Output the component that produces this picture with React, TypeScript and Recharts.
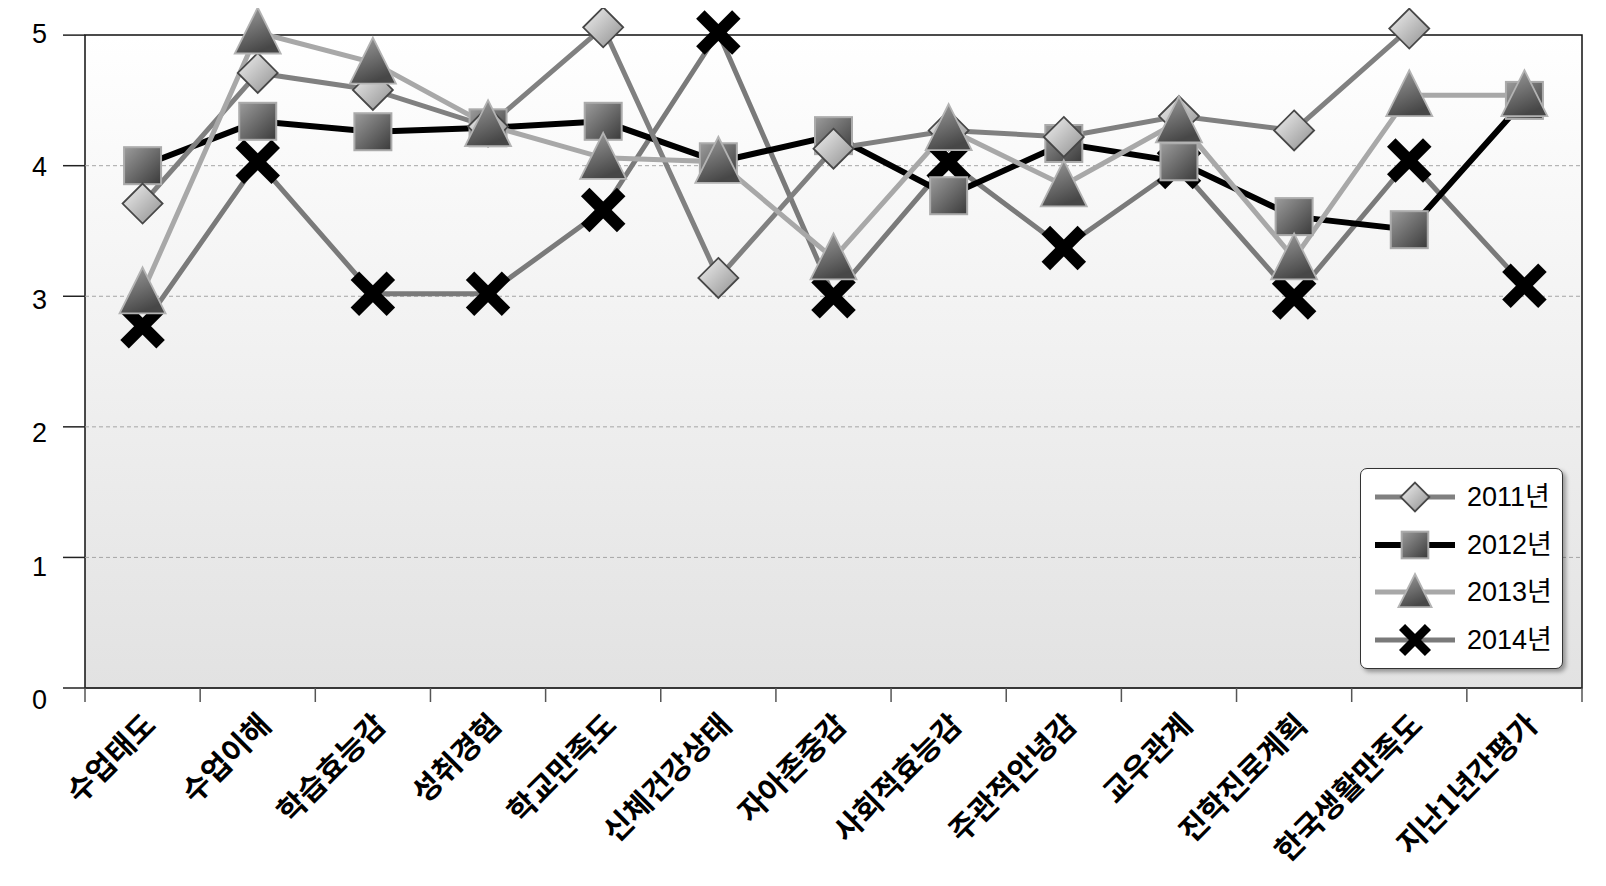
import React from 'react';
import { LineChart, Line, XAxis, YAxis, ReferenceArea, ReferenceLine, Legend } from 'recharts';

const categories = ['수업태도', '수업이해', '학습효능감', '성취경험', '학교만족도', '신체건강상태', '자아존중감', '사회적효능감', '주관적안녕감', '교우관계', '진학진로계획', '한국생활만족도', '지난1년간평가'];
const values2011: (number | null)[] = [3.71, 4.71, 4.58, 4.3, 5.06, 3.14, 4.13, 4.27, 4.22, 4.38, 4.27, 5.05, null];
const values2012 = [4.0, 4.34, 4.26, 4.29, 4.34, 4.03, 4.23, 3.77, 4.17, 4.03, 3.61, 3.51, 4.5];
const values2013 = [3.03, 5.02, 4.79, 4.31, 4.06, 4.03, 3.29, 4.28, 3.85, 4.34, 3.29, 4.54, 4.54];
const values2014 = [2.77, 4.03, 3.02, 3.02, 3.66, 5.02, 3.0, 4.03, 3.37, 3.99, 2.99, 4.04, 3.08];
const yTicks = [0, 1, 2, 3, 4, 5];
const gridLevels = [1, 2, 3, 4];
const seriesNames = ['2011년', '2012년', '2013년', '2014년'];

const data = categories.map((name, i) => ({
  name,
  y2011: values2011[i],
  y2012: values2012[i],
  y2013: values2013[i],
  y2014: values2014[i],
}));

const LATIN = "'Liberation Sans', Arial, 'Noto Sans CJK KR', sans-serif";
const KR = "'Noto Sans CJK KR', 'Noto Sans', sans-serif";

type Shape = 'diamond' | 'square' | 'triangle' | 'x';

function Marker({ shape, cx, cy, s = 1 }: { shape: Shape; cx: number; cy: number; s?: number }) {
  if (shape === 'diamond') {
    const r = 20 * s;
    return (
      <polygon
        points={`${cx},${cy - r} ${cx + r},${cy} ${cx},${cy + r} ${cx - r},${cy}`}
        fill="url(#gDia)"
        stroke="#474747"
        strokeWidth={1.8}
      />
    );
  }
  if (shape === 'square') {
    const h = 18.5 * s;
    return <rect x={cx - h} y={cy - h} width={2 * h} height={2 * h} fill="url(#gSq)" stroke="#ababab" strokeWidth={2} />;
  }
  if (shape === 'triangle') {
    const w = 23 * s;
    return (
      <polygon
        points={`${cx},${cy - 25 * s} ${cx + w},${cy + 21 * s} ${cx - w},${cy + 21 * s}`}
        fill="url(#gTri)"
        stroke="#b3b3b3"
        strokeWidth={1.8}
      />
    );
  }
  const a = 18 * s;
  return (
    <g stroke="#000" strokeWidth={12 * s} strokeLinecap="butt">
      <line x1={cx - a} y1={cy - a} x2={cx + a} y2={cy + a} />
      <line x1={cx - a} y1={cy + a} x2={cx + a} y2={cy - a} />
    </g>
  );
}

const makeDot = (shape: Shape) => (p: any) => {
  const k = `${shape}-${p.index}`;
  if (p.cx == null || p.cy == null || p.value == null) return <g key={k} />;
  return (
    <g key={k}>
      <Marker shape={shape} cx={p.cx} cy={p.cy} />
    </g>
  );
};

const XTick = (props: any) => {
  const { x, y, payload, index } = props;
  const half = payload && payload.offset ? payload.offset : 57.6;
  return (
    <g>
      <line x1={x - half} y1={y} x2={x - half} y2={y + 14} stroke="#555" strokeWidth={1.5} />
      {index === categories.length - 1 && (
        <line x1={x + half} y1={y} x2={x + half} y2={y + 14} stroke="#555" strokeWidth={1.5} />
      )}
      <g transform={`translate(${x + 15},${y + 39})`}>
        <text transform="rotate(-45)" textAnchor="end" fontSize={30} fontFamily={KR} fontWeight={600} fill="#000">
          {payload.value}
        </text>
      </g>
    </g>
  );
};

const YTick = (props: any) => {
  const { x, y, payload } = props;
  const shift = (5 - payload.value) * 2.6 - 2;
  return (
    <text x={x} y={y + shift} dy="0.36em" textAnchor="end" fontSize={27} fontFamily={LATIN} fill="#000">
      {payload.value}
    </text>
  );
};

const legendShapes: Shape[] = ['diamond', 'square', 'triangle', 'x'];
const legendColors = ['#808080', '#000000', '#a8a8a8', '#7a7a7a'];

const renderLegend = () => (
  <div
    style={{
      width: 203,
      height: 201,
      boxSizing: 'border-box',
      background: '#fff',
      border: '1.5px solid #333',
      borderRadius: 7,
      boxShadow: '3px 3px 4px rgba(0,0,0,0.35)',
      position: 'relative',
    }}
  >
    {seriesNames.map((n, i) => (
      <div
        key={n}
        style={{ position: 'absolute', left: 0, top: 28 + i * 47.7 - 20, height: 40, display: 'flex', alignItems: 'center' }}
      >
        <svg width={106} height={40} style={{ display: 'block' }}>
          <line x1={14} y1={20} x2={94} y2={20} stroke={legendColors[i]} strokeWidth={i === 1 ? 6 : 5} />
          <Marker shape={legendShapes[i]} cx={54} cy={20} s={0.72} />
        </svg>
        <span style={{ fontSize: 27, fontFamily: LATIN, color: '#000', lineHeight: '40px' }}>{n}</span>
      </div>
    ))}
  </div>
);

export default function App() {
  return (
    <div style={{ width: 1598, height: 870 }}>
      <LineChart width={1598} height={870} data={data} margin={{ top: 1, right: 24, bottom: 0, left: 17 }}>
        <defs>
          <linearGradient id="bg" x1="0" y1="0" x2="0" y2="1">
            <stop offset="0%" stopColor="#ffffff" />
            <stop offset="100%" stopColor="#e2e2e2" />
          </linearGradient>
          <linearGradient id="gDia" x1="0" y1="0" x2="1" y2="1">
            <stop offset="0%" stopColor="#f2f2f2" />
            <stop offset="100%" stopColor="#8e8e8e" />
          </linearGradient>
          <linearGradient id="gSq" x1="0" y1="0" x2="1" y2="1">
            <stop offset="0%" stopColor="#9c9c9c" />
            <stop offset="100%" stopColor="#3a3a3a" />
          </linearGradient>
          <linearGradient id="gTri" x1="0" y1="0" x2="0.4" y2="1">
            <stop offset="0%" stopColor="#a0a0a0" />
            <stop offset="100%" stopColor="#474747" />
          </linearGradient>
        </defs>
        <ReferenceArea y1={0} y2={5} fill="url(#bg)" fillOpacity={1} stroke="#111" strokeWidth={1.5} />
        {gridLevels.map((g) => (
          <ReferenceLine key={g} y={g} stroke="#a6a6a6" strokeWidth={1} strokeDasharray="4 3" />
        ))}
        <XAxis
          dataKey="name"
          scale="band"
          interval={0}
          height={190}
          tickSize={0}
          tickMargin={0}
          tickLine={false}
          axisLine={{ stroke: '#333', strokeWidth: 1.5 }}
          tick={<XTick />}
        />
        <YAxis
          domain={[0, 5.2]}
          ticks={yTicks}
          width={60}
          axisLine={false}
          tickLine={{ stroke: '#222', strokeWidth: 1.5 }}
          tickSize={22}
          tickMargin={16}
          tick={<YTick />}
        />
        <Legend
          layout="vertical"
          align="center"
          verticalAlign="middle"
          content={renderLegend}
          wrapperStyle={{ left: 1352, top: 460, width: 203, height: 201 }}
        />
        <Line dataKey="y2014" name={seriesNames[3]} stroke="#7a7a7a" strokeWidth={5} dot={makeDot('x')} activeDot={false} isAnimationActive={false} />
        <Line dataKey="y2012" name={seriesNames[1]} stroke="#000" strokeWidth={6} dot={makeDot('square')} activeDot={false} isAnimationActive={false} />
        <Line dataKey="y2011" name={seriesNames[0]} stroke="#808080" strokeWidth={5} dot={makeDot('diamond')} activeDot={false} isAnimationActive={false} />
        <Line dataKey="y2013" name={seriesNames[2]} stroke="#a8a8a8" strokeWidth={5} dot={makeDot('triangle')} activeDot={false} isAnimationActive={false} />
      </LineChart>
    </div>
  );
}
